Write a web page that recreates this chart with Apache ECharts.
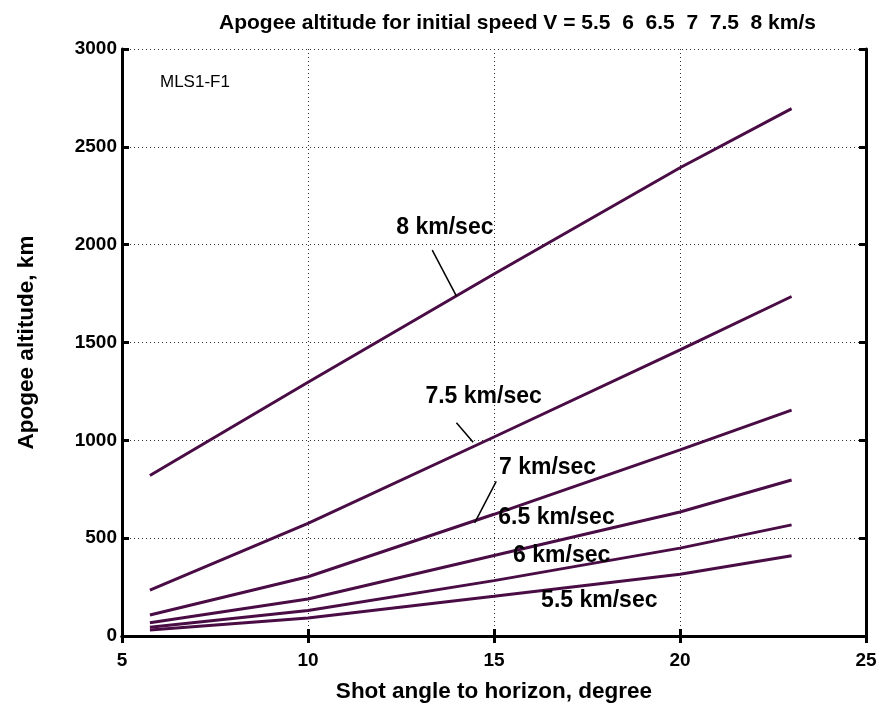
<!DOCTYPE html>
<html><head><meta charset="utf-8">
<script src="https://cdn.jsdelivr.net/npm/echarts@6/dist/echarts.min.js"></script>
<style>html,body{margin:0;padding:0;background:#fff}#c{width:880px;height:707px}</style>
</head><body><div id="c"></div>
<script>
// Shot angle (degrees)
const angles = [5.75, 10, 15, 20, 23];
// Apogee altitude (km) per initial speed
const speeds = ['8', '7.5', '7', '6.5', '6', '5.5'];
const v8  = [820, 1297, 1850, 2393, 2695];
const v75 = [235, 576, 1017, 1462, 1735];
const v7  = [107, 303, 622, 951, 1154];
const v65 = [68, 189, 411, 634, 797];
const v6  = [45, 130, 283, 449, 568];
const v55 = [31, 92, 203, 316, 410];
const seriesValues = [v8, v75, v7, v65, v6, v55];
const xTicks = [5, 10, 15, 20, 25];
const yTicks = [0, 500, 1000, 1500, 2000, 2500, 3000];
// Annotation labels (data coordinates) and leader lines
const labelText = ['8 km/sec', '7.5 km/sec', '7 km/sec', '6.5 km/sec', '6 km/sec', '5.5 km/sec'];
const labelAt = [[13.68, 2087], [14.72, 1224], [16.44, 860], [16.68, 605], [16.82, 411], [17.83, 180]];
const leaders = [
  [[13.34, 1972], [13.99, 1737]],
  [[13.99, 1090], [14.44, 990]],
  [[15.06, 790], [14.48, 578]],
  null, null, null
];

const FONT = "'Liberation Sans', Arial, sans-serif";
const chart = echarts.init(document.getElementById('c'));
const lineColor = '#4a0c45';

const series = seriesValues.map((vals, i) => {
  const s = {
    name: speeds[i] + ' km/s',
    type: 'line',
    data: angles.map((a, k) => [a, vals[k]]),
    showSymbol: false,
    symbol: 'none',
    lineStyle: { color: lineColor, width: 3 },
    itemStyle: { color: lineColor },
    z: 3,
    markPoint: {
      symbol: 'circle', symbolSize: 0, silent: true,
      data: [{ coord: labelAt[i], value: labelText[i] }],
      label: {
        show: true, position: 'inside', formatter: labelText[i],
        color: '#000', fontFamily: FONT, fontWeight: 'bold', fontSize: 23
      }
    }
  };
  if (leaders[i]) {
    s.markLine = {
      symbol: 'none', silent: true, animation: false,
      label: { show: false },
      lineStyle: { color: '#000', width: 1.5, type: 'solid' },
      data: [[{ coord: leaders[i][0] }, { coord: leaders[i][1] }]]
    };
  }
  return s;
});

const tickLabel = { color: '#000', fontFamily: FONT, fontWeight: 'bold', fontSize: 19, formatter: v => String(v) };
const gridDots = { show: true, lineStyle: { color: '#333', width: 1, type: [1, 3] } };
const frame = { show: true, lineStyle: { color: '#000', width: 3 } };
const ticksIn = { show: true, inside: true, length: 7, lineStyle: { color: '#000', width: 3 } };

chart.setOption({
  animation: false,
  backgroundColor: '#fff',
  title: {
    text: 'Apogee altitude for initial speed V = 5.5  6  6.5  7  7.5  8 km/s',
    left: 214, top: 8,
    textStyle: { color: '#000', fontFamily: FONT, fontWeight: 'bold', fontSize: 21 }
  },
  grid: { left: 122, right: 14, top: 49, bottom: 71, containLabel: false, outerBoundsMode: 'none' },
  xAxis: [{
    type: 'value', min: xTicks[0], max: xTicks[xTicks.length - 1], interval: 5,
    position: 'bottom',
    name: 'Shot angle to horizon, degree', nameLocation: 'middle', nameGap: 44,
    nameTextStyle: { color: '#000', fontFamily: FONT, fontWeight: 'bold', fontSize: 22.5 },
    axisLine: frame, axisTick: ticksIn,
    axisLabel: Object.assign({ margin: 15 }, tickLabel),
    splitLine: gridDots
  }, {
    type: 'value', min: xTicks[0], max: xTicks[xTicks.length - 1], interval: 5,
    position: 'top',
    axisLine: frame, axisTick: ticksIn, axisLabel: { show: false }, splitLine: { show: false }
  }],
  yAxis: [{
    type: 'value', min: yTicks[0], max: yTicks[yTicks.length - 1], interval: 500,
    position: 'left',
    name: 'Apogee altitude, km', nameLocation: 'middle', nameGap: 84,
    nameTextStyle: { color: '#000', fontFamily: FONT, fontWeight: 'bold', fontSize: 22.5 },
    axisLine: frame, axisTick: ticksIn,
    axisLabel: Object.assign({ margin: 5 }, tickLabel),
    splitLine: gridDots
  }, {
    type: 'value', min: yTicks[0], max: yTicks[yTicks.length - 1], interval: 500,
    position: 'right',
    axisLine: frame, axisTick: ticksIn, axisLabel: { show: false }, splitLine: { show: false }
  }],
  graphic: [{
    type: 'text', left: 160, top: 74,
    style: { text: 'MLS1-F1', fill: '#000', font: "17px 'Liberation Sans', Arial, sans-serif" }
  }],
  series: series
});
</script>
</body></html>
